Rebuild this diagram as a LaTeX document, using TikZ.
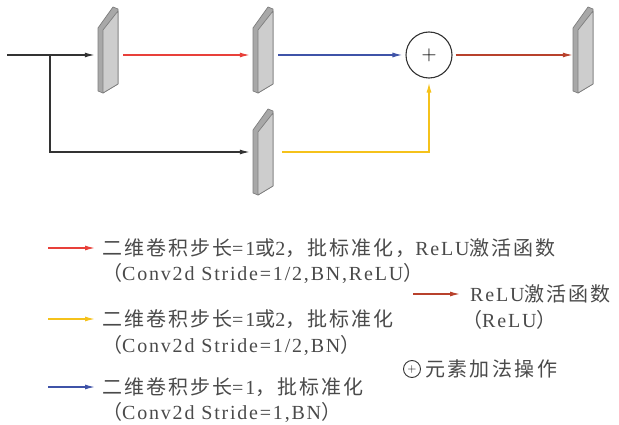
\documentclass[tikz,border=0pt]{standalone}
\usepackage{fontspec}
\setmainfont{Liberation Serif}[LetterSpace=9]
\newfontfamily\cjk{Noto Sans CJK SC}[LetterSpace=10]
\usetikzlibrary{arrows.meta,calc}
\definecolor{cred}{HTML}{E8403A}
\definecolor{cblue}{HTML}{3F53A8}
\definecolor{cyel}{HTML}{F5C21B}
\definecolor{cbrown}{HTML}{B8412C}
\definecolor{cblack}{HTML}{333333}
\definecolor{ctext}{HTML}{4A4A4A}
\definecolor{slabface}{HTML}{CDCDCD}
\definecolor{slabedge}{HTML}{A8A8A8}
\definecolor{slabline}{HTML}{7E7E7E}
\tikzset{
  arr/.style={line width=1.3pt,-{Latex[length=10pt,width=5pt]}},
  slabnode/.style={minimum width=20pt,minimum height=86pt,inner sep=0pt,draw=none},
  sumnode/.style={circle,draw=cblack,line width=1.1pt,minimum size=46pt,inner sep=0pt,font=\fontsize{20}{20}\selectfont},
  lbl/.style={anchor=west,inner sep=0pt,text=ctext,font=\fontsize{20}{22}\selectfont},
}
\newcommand\myslab[3]{%
  \node[slabnode] (#1) at (#2,#3) {};
  \begin{scope}[shift={(#1.center)}]
    \filldraw[fill=slabedge,draw=slabline,line width=0.7pt,line join=round]
      (-10,41) -- (-10,-22) -- (5,-43) -- (10,-41) -- (10,34) -- (-5,43) -- cycle;
    \filldraw[fill=slabface,draw=slabline,line width=0.7pt,line join=round]
      (-5,43) -- (-5,-20) -- (10,-39) -- (10,34) -- cycle;
  \end{scope}}
\begin{document}
\begin{tikzpicture}[x=1pt,y=-1pt]
\useasboundingbox (0,0) rectangle (619,425);
\myslab{s1}{108}{50}
\myslab{s2}{263}{50}
\myslab{s3}{263}{152}
\myslab{s4}{583}{50}
\node[sumnode] (sum) at (429,55) {$+$};
\coordinate (in) at (7,55);
\coordinate (br) at (50,55);
\draw[arr,cblack] (in) -- ([xshift=-3pt]s1.west |- in);
\draw[arr,cblack] (br) |- ([xshift=-3pt]s3.west);
\draw[arr,cred] ([xshift=5pt]s1.east |- in) -- ([xshift=-3pt]s2.west |- in);
\draw[arr,cblue] ([xshift=5pt]s2.east |- in) -- ([xshift=-3pt]sum.west);
\draw[arr,cyel] ([xshift=9pt]s3.east) -| ([yshift=-4pt]sum.south);
\draw[arr,cbrown] ([xshift=3pt]sum.east) -- (s4.west |- in);
% legend
\coordinate (l1a) at (48,248); \coordinate (l1b) at (95,248);
\coordinate (l2a) at (48,319); \coordinate (l2b) at (95,319);
\coordinate (l3a) at (48,387); \coordinate (l3b) at (95,387);
\coordinate (l4a) at (413,294); \coordinate (l4b) at (460,294);
\draw[arr,cred] (l1a) -- (l1b);
\draw[arr,cyel] (l2a) -- (l2b);
\draw[arr,cblue] (l3a) -- (l3b);
\draw[arr,cbrown] (l4a) -- (l4b);
\node[lbl] (t1) at (102,248) {{\cjk 二维卷积步长}=1{\cjk 或}2{\cjk ，批标准化，}ReLU{\cjk 激活函数}};
\node[lbl] (t1b) at (102,273) {{\cjk （}Conv2d Stride=1/2,BN,ReLU{\cjk ）}};
\node[lbl] (t2) at (102,319) {{\cjk 二维卷积步长}=1{\cjk 或}2{\cjk ，批标准化}};
\node[lbl] (t2b) at (102,345) {{\cjk （}Conv2d Stride=1/2,BN{\cjk ）}};
\node[lbl] (t3) at (102,387) {{\cjk 二维卷积步长}=1{\cjk ，批标准化}};
\node[lbl] (t3b) at (102,412) {{\cjk （}Conv2d Stride=1,BN{\cjk ）}};
\node[lbl] (t4) at (470,294) {ReLU{\cjk 激活函数}};
\node[lbl] (t4b) at (462,320) {{\cjk （}ReLU{\cjk ）}};
\node[circle,draw=cblack,line width=0.9pt,minimum size=17pt,inner sep=0pt,font=\fontsize{13}{13}\selectfont] (lsum) at (412,369) {$+$};
\node[lbl] (t5) at (425,369) {{\cjk\addfontfeature{LetterSpace=12} 元素加法操作}};
\end{tikzpicture}
\end{document}
